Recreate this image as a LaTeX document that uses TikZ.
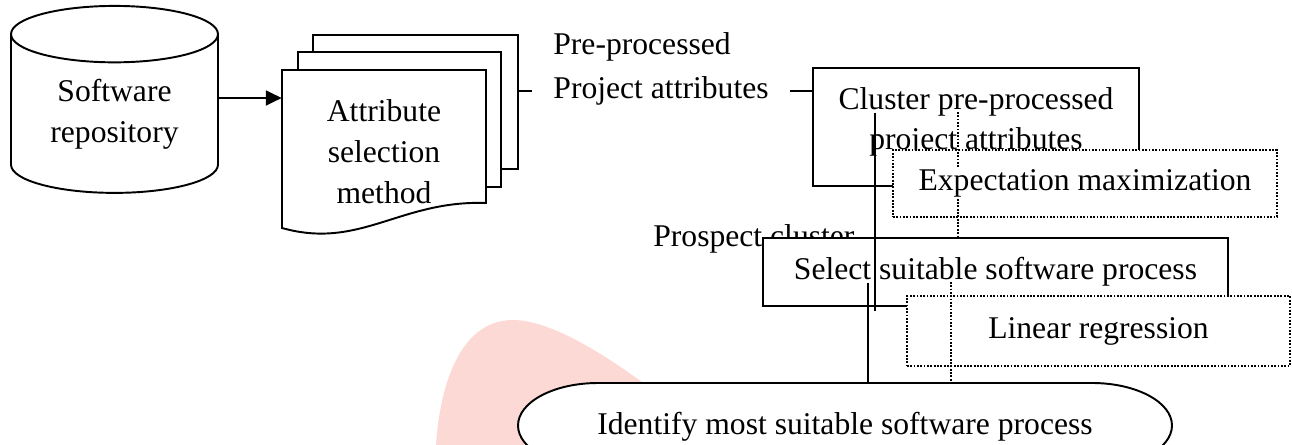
\documentclass[tikz,border=0pt]{standalone}
\usepackage{fontspec}
\setmainfont{Liberation Serif}
\usetikzlibrary{shapes.geometric,arrows.meta,positioning}

\definecolor{wmark}{RGB}{252,217,212}

\tikzset{
  txt/.style={font=\fontsize{18}{23.2}\selectfont, align=center},
  box/.style={draw, line width=1.1pt, fill=white, inner sep=0pt},
  dotbox/.style={box, dash pattern=on 1pt off 0.9pt},
  dots/.style={line width=1pt, dash pattern=on 1pt off 0.9pt},
  wire/.style={line width=1.1pt},
}

\begin{document}
\begin{tikzpicture}[x=0.02cm,y=0.02cm]
    \useasboundingbox (0,0) rectangle (1292,445);
    \clip (0,0) rectangle (1292,445);
    % pale mark in the lower left
    \fill[wmark] (436,0) .. controls (440,60) and (460,125) .. (513,125)
      .. controls (560,125) and (640,70) .. (720,0) -- cycle;

    % repository
    \node[box, txt, cylinder, shape border rotate=90, aspect=0.44,
      minimum width=4.14cm, minimum height=3.74cm] (repo) at (114.5,331) {Software\\repository};

    % stack of pages
    \node[box, minimum width=4.1cm, minimum height=2.68cm] (p3) at (415.5,343) {};
    \node[box, minimum width=4.06cm, minimum height=2.7cm] (p2) at (399.5,325.5) {};
    \draw[wire, fill=white] (282,375) -- (486,375) -- (486,242)
      .. controls (400,245) and (360,195) .. (282,217) -- cycle;
    \node[txt, minimum width=4.08cm] (attr) at (384,293.5) {Attribute\\selection\\method};
    \draw[wire, -{Triangle[length=9pt,width=8.5pt]}] ([yshift=9.1pt]repo.east) -- ([yshift=9.1pt]repo.east -| attr.west);

    % label on the link to the cluster step
    \node[txt, anchor=base west, inner xsep=12pt, inner ysep=0pt] (ppa) at (532,346) {Project attributes};
    \node[txt, anchor=base west, inner sep=0pt] (pp) at (553,390) {Pre-processed};
    \draw[wire] (p3.east |- ppa.west) -- (ppa.west);

    % cluster step and its method
    \node[box, minimum width=6.52cm, minimum height=2.36cm] (cluster) at (976,318) {};
    \node[txt] (clustertxt) at (976,323) {Cluster pre-processed\\project attributes};
    \draw[wire] (ppa.east) -- (ppa.east -| cluster.west);
    \node[dotbox, minimum width=7.68cm, minimum height=1.34cm] (em) at (1085,261.5) {};

    % select step and its method
    \node[txt, anchor=base west, inner sep=0pt] (pc) at (653,198) {Prospect cluster};
    \node[box, txt, minimum width=9.3cm, minimum height=1.36cm] (select) at (995.5,173) {Select suitable software process};
    \node[dotbox, minimum width=7.66cm, minimum height=1.4cm] (lr) at (1098.5,114) {};

    % last step
    \draw[wire, fill=white] (598,62) -- (1092,62) arc[start angle=90, end angle=-90, x radius=1.6cm, y radius=0.85cm]
      -- (598,-23) arc[start angle=270, end angle=90, x radius=1.6cm, y radius=0.85cm] -- cycle;
    \node[txt] (idf) at (845,18) {Identify most suitable software process};

    % vertical links
    \coordinate (a1) at (875,332);
    \coordinate (a2) at (875,134);
    \coordinate (b1) at (868,162);
    \coordinate (b2) at (868,62);
    \coordinate (c1) at (958,333);
    \coordinate (d1) at (951,163);
    \coordinate (d2) at (951,62);
    \draw[wire] (a1) -- (a2);
    \draw[wire] (b1) -- (b2);
    \draw[dots] (c1) -- (c1 |- select.north);
    \draw[dots] (d1) -- (d2);

    \node[txt, fill=white, inner sep=1pt] (emtxt) at (em) {Expectation maximization};
    \node[txt, fill=white, inner sep=1pt] (lrtxt) at (lr) {Linear regression};
\end{tikzpicture}
\end{document}
